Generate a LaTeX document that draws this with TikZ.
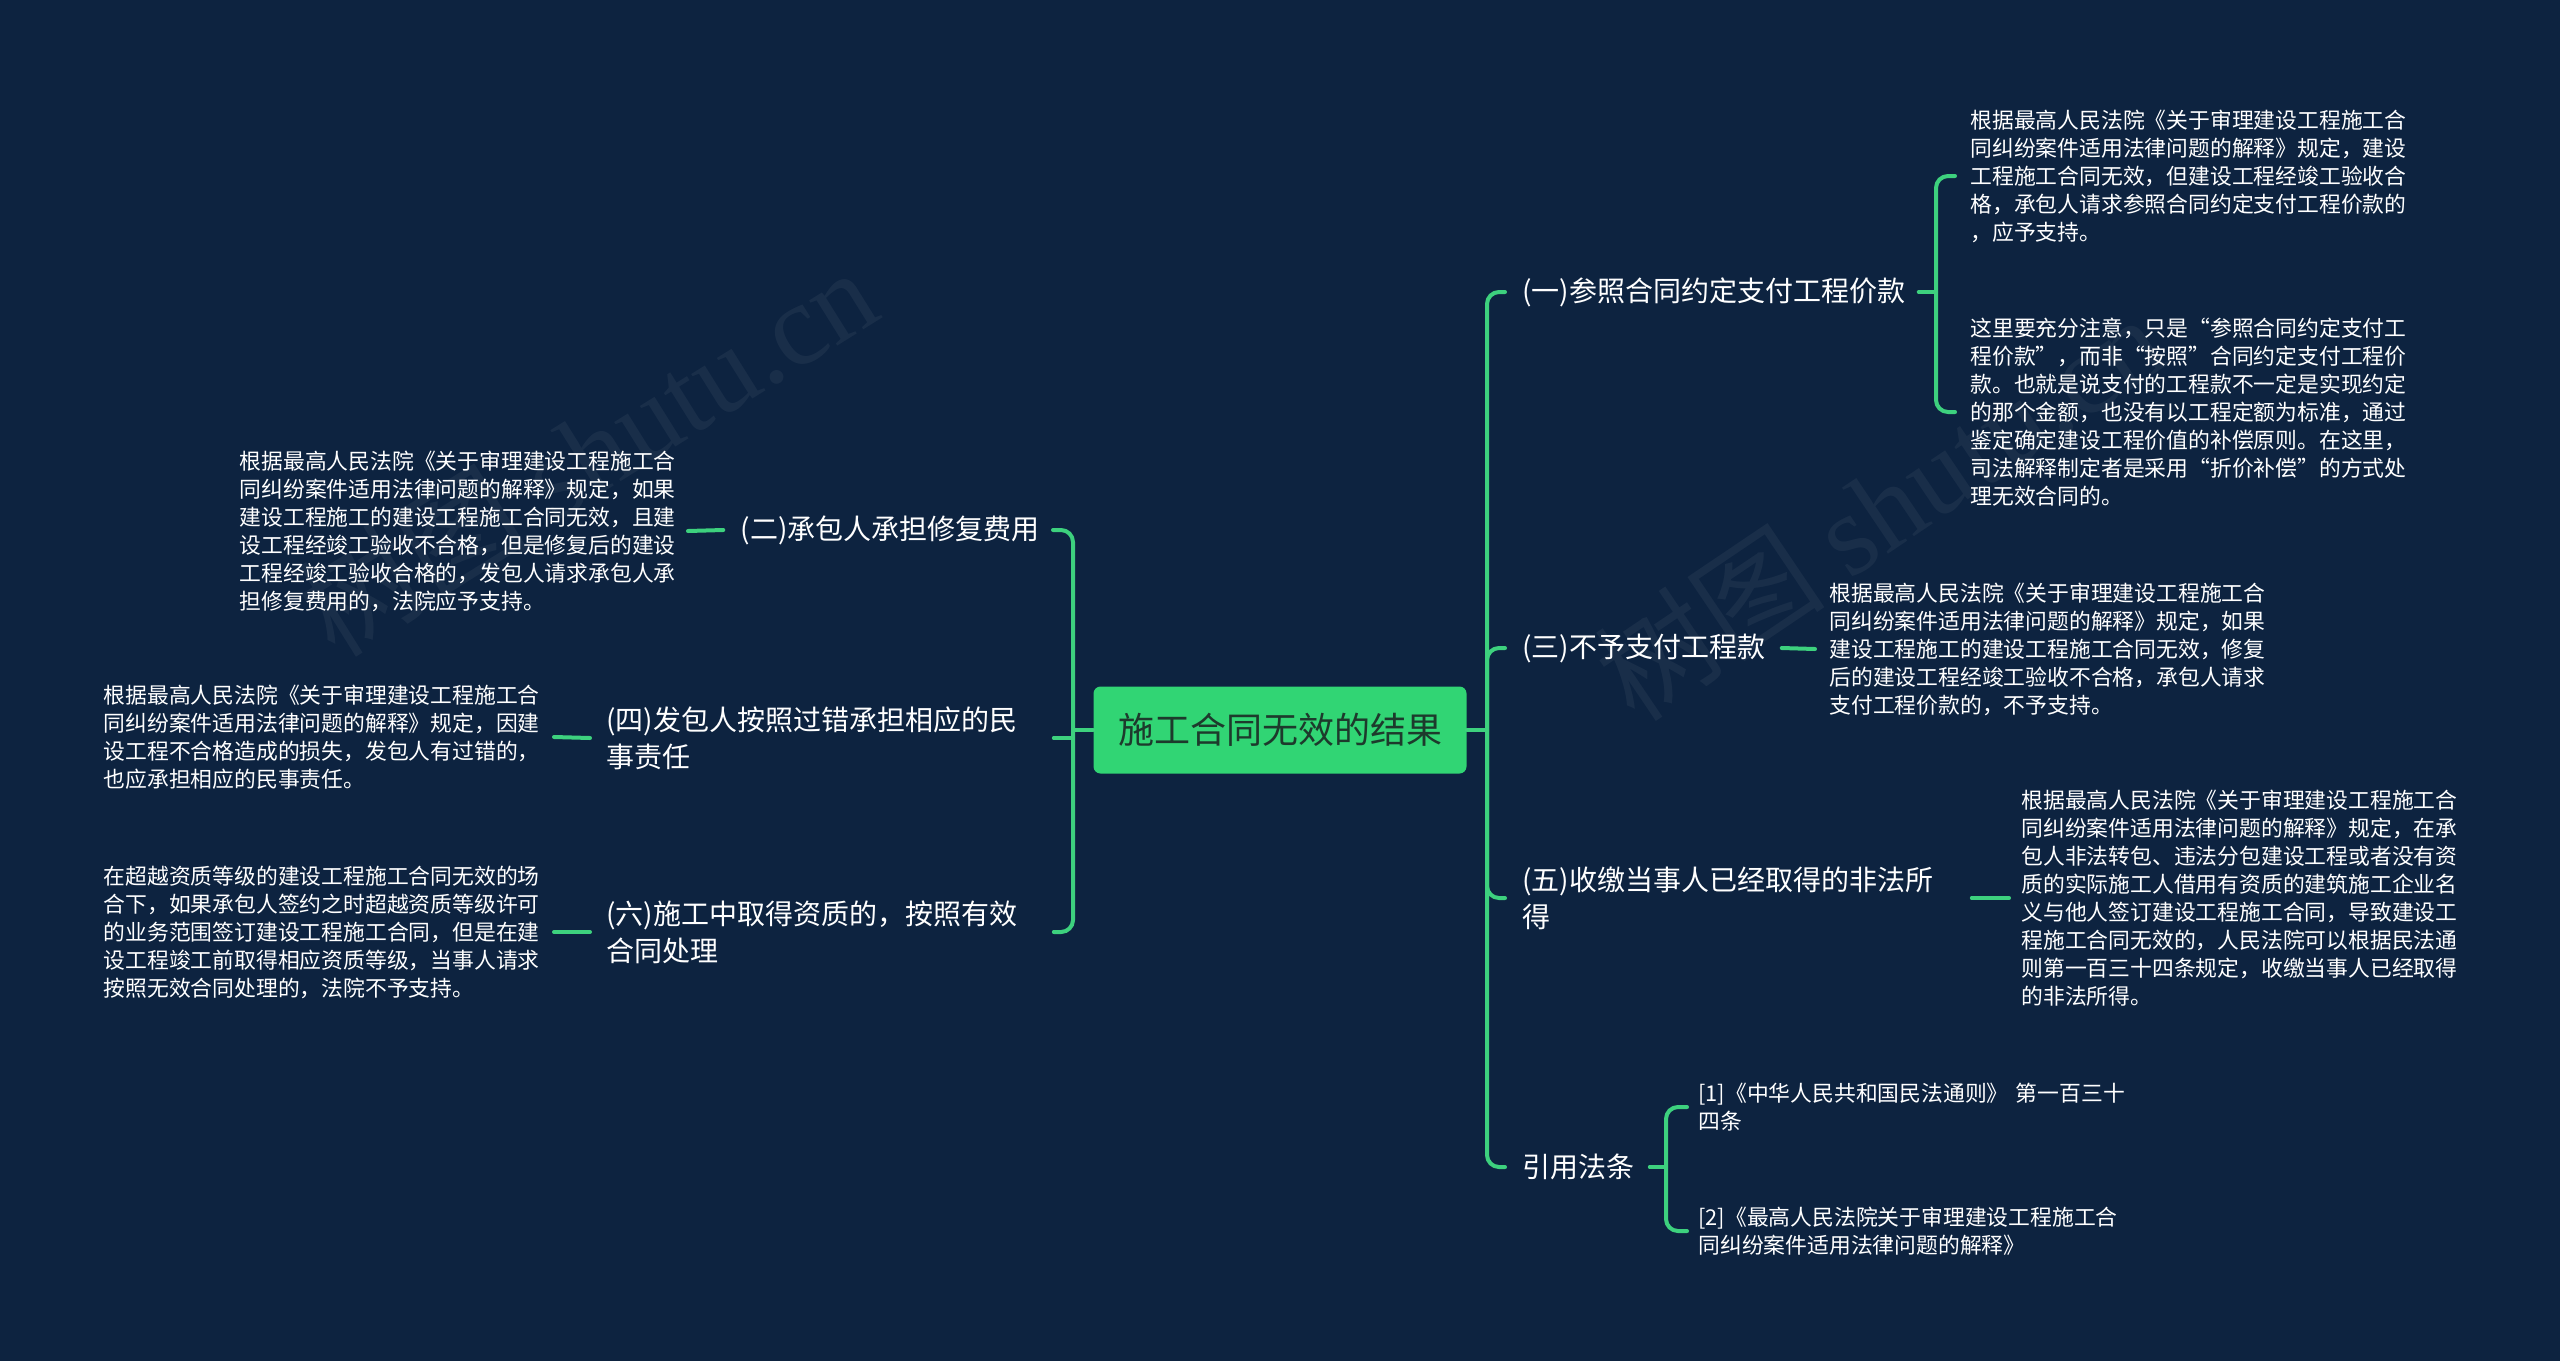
\documentclass[tikz,border=0pt]{standalone}
\usepackage{fontspec}
\setmainfont{Noto Sans CJK SC}
\newfontfamily\wmserif{Liberation Serif}
\definecolor{bg}{HTML}{0D2340}
\definecolor{lk}{HTML}{3DD17E}
\definecolor{rootfill}{HTML}{31D574}
\definecolor{roottext}{HTML}{1D3A2C}
\tikzset{
  link/.style={draw=lk, line width=2pt, line cap=round},
  rc/.style={rounded corners=6pt},
  rootbox/.style={fill=rootfill, rounded corners=3.5pt, minimum width=186.5pt, minimum height=43.5pt, inner sep=0pt, text=roottext, font=\fontsize{18}{22}\selectfont},
  branch/.style={text=white, inner sep=0pt, font=\fontsize{14}{18.5}\selectfont, align=left},
  branchw/.style={branch, text width=218pt},
  leaf/.style={text=white, inner sep=0pt, font=\fontsize{10.9}{14}\selectfont, align=left, text width=219pt},
  wm/.style={text=white, opacity=0.05, inner sep=0pt, font=\fontsize{58}{60}\selectfont}
}
\begin{document}
\begin{tikzpicture}[x=0.5pt, y=-0.5pt]
\fill[bg] (0,0) rectangle (2560,1361);
\useasboundingbox (0,0) rectangle (2560,1361);

% watermarks
\node[wm, rotate=32, anchor=base west] (wm1) at (335,660) {树图 {\wmserif shutu.cn}};
\node[wm, rotate=34, anchor=base west] (wm2) at (1635,725) {树图 {\wmserif shutu.cn}};

% root
\node[rootbox] (root) at (1280,730) {施工合同无效的结果};
\coordinate (rj) at (1487,730);
\coordinate (lj) at (1073,730);

% right branches
\node[branch, anchor=west] (b1) at (1522,292) {(一)参照合同约定支付工程价款};
\node[branch, anchor=west] (b3) at (1522,648) {(三)不予支付工程款};
\node[branchw, anchor=west] (b5) at (1522,898) {(五)收缴当事人已经取得的非法所\\得};
\node[branch, anchor=west] (b7) at (1522,1167) {引用法条};

\node[leaf, anchor=west] (s1a) at (1970,176) {根据最高人民法院《关于审理建设工程施工合\\同纠纷案件适用法律问题的解释》规定，建设\\工程施工合同无效，但建设工程经竣工验收合\\格，承包人请求参照合同约定支付工程价款的\\，应予支持。};
\node[leaf, anchor=west] (s1b) at (1970,412) {这里要充分注意，只是“参照合同约定支付工\\程价款”，而非“按照”合同约定支付工程价\\款。也就是说支付的工程款不一定是实现约定\\的那个金额，也没有以工程定额为标准，通过\\鉴定确定建设工程价值的补偿原则。在这里，\\司法解释制定者是采用“折价补偿”的方式处\\理无效合同的。};
\coordinate (j1) at (1936,292);

\node[leaf, anchor=west] (s3) at (1829,649) {根据最高人民法院《关于审理建设工程施工合\\同纠纷案件适用法律问题的解释》规定，如果\\建设工程施工的建设工程施工合同无效，修复\\后的建设工程经竣工验收不合格，承包人请求\\支付工程价款的，不予支持。};

\node[leaf, anchor=west] (s5) at (2021,898) {根据最高人民法院《关于审理建设工程施工合\\同纠纷案件适用法律问题的解释》规定，在承\\包人非法转包、违法分包建设工程或者没有资\\质的实际施工人借用有资质的建筑施工企业名\\义与他人签订建设工程施工合同，导致建设工\\程施工合同无效的，人民法院可以根据民法通\\则第一百三十四条规定，收缴当事人已经取得\\的非法所得。};

\coordinate (j7) at (1666,1167);
\node[leaf, anchor=west] (s7a) at (1698,1107) {[1]《中华人民共和国民法通则》 第一百三十\\四条};
\node[leaf, anchor=west] (s7b) at (1698,1231) {[2]《最高人民法院关于审理建设工程施工合\\同纠纷案件适用法律问题的解释》};

% left branches
\node[branch, anchor=east] (c2) at (1040,530) {(二)承包人承担修复费用};
\node[branchw, anchor=west] (c4) at (606,738) {(四)发包人按照过错承担相应的民\\事责任};
\node[branchw, anchor=west] (c6) at (606,932) {(六)施工中取得资质的，按照有效\\合同处理};

\node[leaf, anchor=east] (s2) at (678,531) {根据最高人民法院《关于审理建设工程施工合\\同纠纷案件适用法律问题的解释》规定，如果\\建设工程施工的建设工程施工合同无效，且建\\设工程经竣工验收不合格，但是修复后的建设\\工程经竣工验收合格的，发包人请求承包人承\\担修复费用的，法院应予支持。};
\node[leaf, anchor=east] (s4) at (542,737) {根据最高人民法院《关于审理建设工程施工合\\同纠纷案件适用法律问题的解释》规定，因建\\设工程不合格造成的损失，发包人有过错的，\\也应承担相应的民事责任。};
\node[leaf, anchor=east] (s6) at (542,932) {在超越资质等级的建设工程施工合同无效的场\\合下，如果承包人签约之时超越资质等级许可\\的业务范围签订建设工程施工合同，但是在建\\设工程竣工前取得相应资质等级，当事人请求\\按照无效合同处理的，法院不予支持。};

% connectors right
\draw[link] (root.east) -- (rj);
\draw[link, rc] (rj) |- ([xshift=-8.5pt]b1.west);
\draw[link, rc] (rj) |- ([xshift=-8.5pt]b3.west);
\draw[link, rc] (rj) |- ([xshift=-8.5pt]b5.west);
\draw[link, rc] (rj) |- ([xshift=-8.5pt]b7.west);
\draw[link] ([xshift=6.5pt]b1.east) -- (j1);
\draw[link, rc] (j1) |- ([xshift=-7.5pt]s1a.west);
\draw[link, rc] (j1) |- ([xshift=-7.5pt]s1b.west);
\draw[link] ([xshift=8pt]b3.east) -- ([xshift=-7pt]s3.west);
\draw[link] ([xshift=6.5pt]b5.east) -- ([xshift=-6pt]s5.west);
\draw[link] ([xshift=7.5pt]b7.east) -- (j7);
\draw[link, rc] (j7) |- ([xshift=-5.5pt]s7a.west);
\draw[link, rc] (j7) |- ([xshift=-5.5pt]s7b.west);

% connectors left
\draw[link] (root.west) -- (lj);
\draw[link, rc] (lj) |- ([xshift=6.5pt]c2.east);
\draw[link] (lj |- c4.east) -- ([xshift=5.5pt]c4.east);
\draw[link, rc] (lj) |- ([xshift=5.5pt]c6.east);
\draw[link] ([xshift=-8.5pt]c2.west) -- ([xshift=5pt]s2.east);
\draw[link] ([xshift=-8pt]c4.west) -- ([xshift=6pt]s4.east);
\draw[link] ([xshift=-8pt]c6.west) -- ([xshift=6pt]s6.east);
\end{tikzpicture}
\end{document}
